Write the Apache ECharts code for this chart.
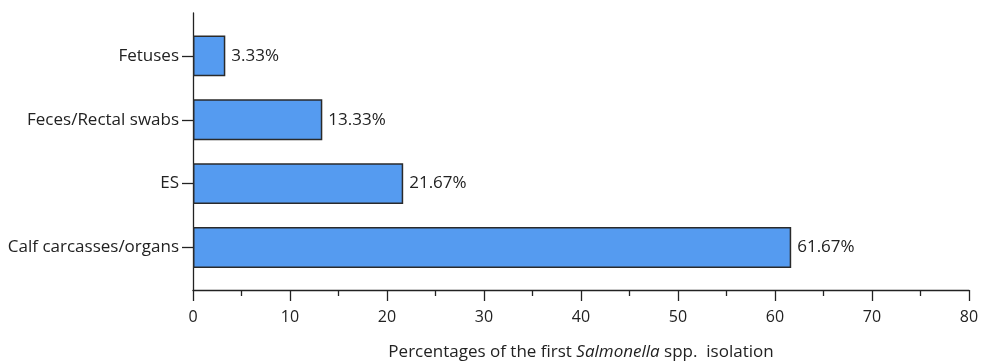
<!DOCTYPE html>
<html>
<head>
<meta charset="utf-8">
<script src="https://cdn.jsdelivr.net/npm/echarts@6/dist/echarts.min.js"></script>
<style>html,body{margin:0;padding:0;background:#fff;}#c{width:981px;height:362px;}</style>
</head>
<body>
<div id="c"></div>
<script>
const categories = ['Calf carcasses/organs', 'ES', 'Feces/Rectal swabs', 'Fetuses'];
const values = [61.67, 21.67, 13.33, 3.33];
const xTicks = [0, 10, 20, 30, 40, 50, 60, 70, 80];

const FONT = '"Open Sans", sans-serif';
const chart = echarts.init(document.getElementById('c'));
chart.setOption({
  animation: false,
  backgroundColor: '#fff',
  grid: [
    {left: 193, right: 12, top: 13, bottom: 72, outerBoundsMode: 'none', containLabel: false},
    {left: 193, right: 12, top: 23.9, bottom: 82.5, outerBoundsMode: 'none', containLabel: false}
  ],
  xAxis: [
    {
      gridIndex: 0, type: 'value', min: xTicks[0], max: xTicks[xTicks.length - 1], interval: 10,
      axisLine: {show: true, lineStyle: {color: '#222', width: 1.3}},
      axisTick: {show: true, length: 11, lineStyle: {color: '#222', width: 1.3}},
      minorTick: {show: true, splitNumber: 2, length: 6, lineStyle: {color: '#222', width: 1.3}},
      splitLine: {show: false},
      axisLabel: {color: '#222', fontFamily: FONT, fontSize: 16, margin: 19},
      name: '{n|Percentages of the first }{i|Salmonella}{n| spp.  isolation}',
      nameLocation: 'middle', nameGap: 54,
      nameTextStyle: {rich: {
        n: {fontFamily: FONT, fontSize: 17, color: '#222'},
        i: {fontFamily: FONT, fontSize: 17, color: '#222', fontStyle: 'italic'}
      }}
    },
    {
      gridIndex: 1, type: 'value', min: xTicks[0], max: xTicks[xTicks.length - 1], show: false
    }
  ],
  yAxis: [
    {
      gridIndex: 0, type: 'value', min: 0, max: 1,
      axisLine: {show: true, lineStyle: {color: '#222', width: 1.3}},
      axisTick: {show: false}, axisLabel: {show: false}, splitLine: {show: false}
    },
    {
      gridIndex: 1, type: 'category', data: categories,
      axisLine: {show: false},
      axisTick: {show: true, alignWithLabel: true, length: 11, lineStyle: {color: '#222', width: 1.3}},
      axisLabel: {color: '#222', fontFamily: FONT, fontSize: 17, margin: 14}
    }
  ],
  series: [{
    type: 'bar', xAxisIndex: 1, yAxisIndex: 1,
    data: values, barWidth: '64%',
    itemStyle: {color: '#559BF0', borderColor: '#2a2a2a', borderWidth: 1.5},
    label: {show: true, position: 'right', distance: 6, color: '#222', fontFamily: FONT, fontSize: 17,
      formatter: p => p.value.toFixed(2) + '%'}
  }]
});
</script>
</body>
</html>
